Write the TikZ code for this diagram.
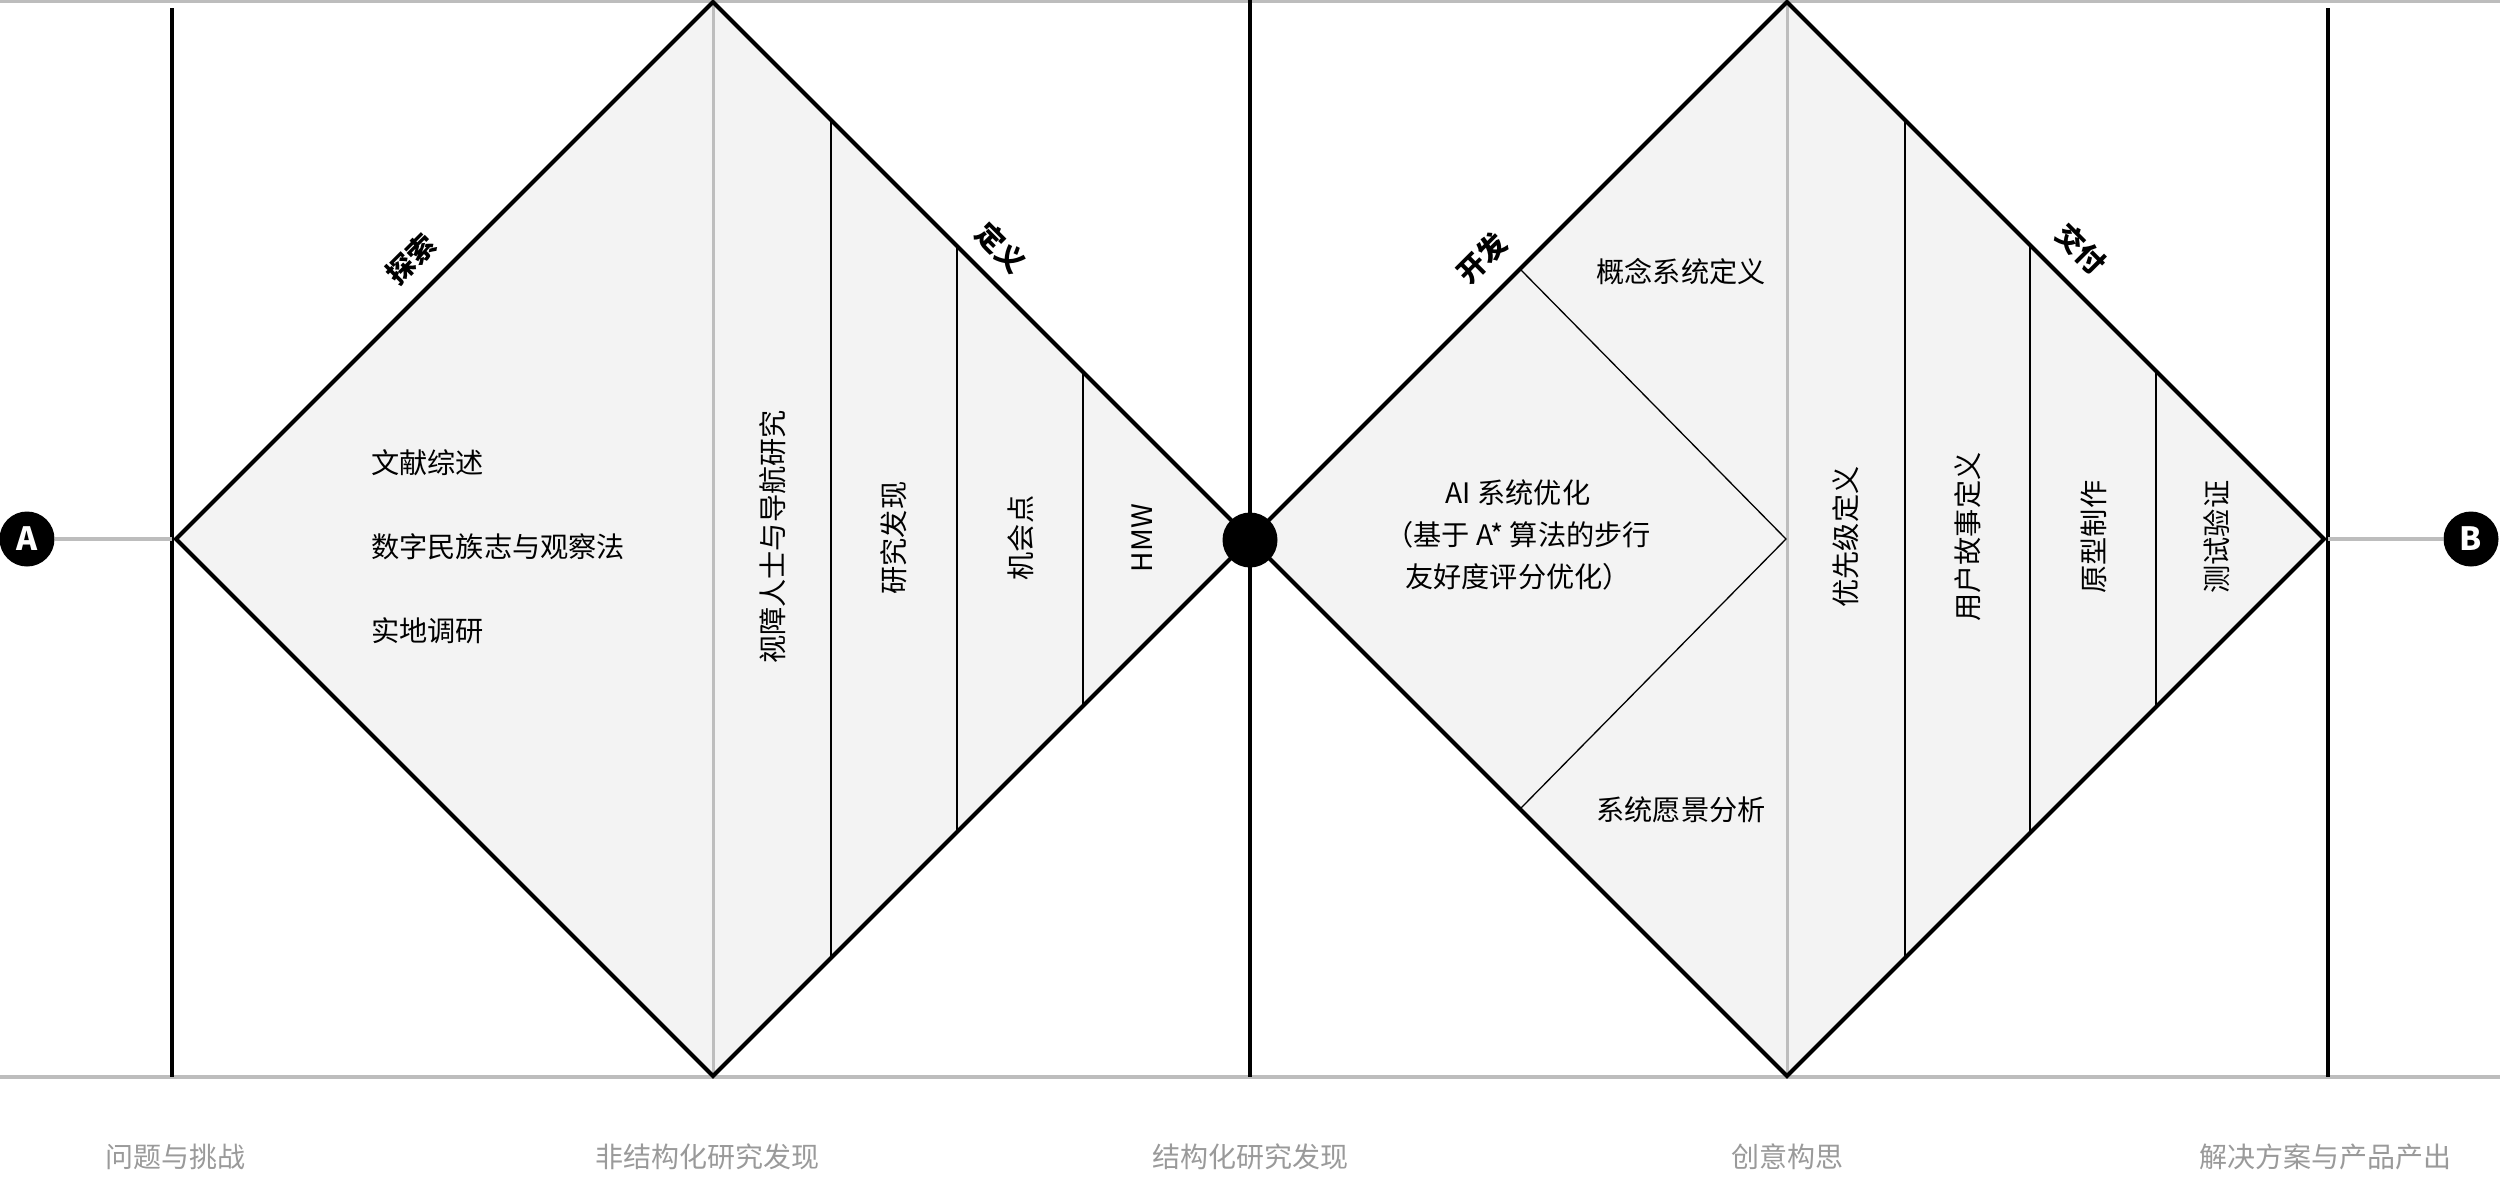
\documentclass[tikz,border=0pt]{standalone}
\usepackage{fontspec}
\setmainfont{Noto Sans CJK SC}
\definecolor{diafill}{HTML}{F3F3F3}
\definecolor{guidegray}{HTML}{BDBDBD}
\definecolor{stagegray}{HTML}{9A9A9A}
\begin{document}
\begin{tikzpicture}[x=1pt,y=-1pt,
  outline/.style={draw=black, line width=4pt, line join=miter},
  sepline/.style={draw=black, line width=1.6pt},
  guide/.style={draw=guidegray, line width=3.5pt},
  frameline/.style={draw=black, line width=3.2pt},
  body/.style={font=\fontsize{28.2}{42}\selectfont, text=black, inner sep=0pt},
  vtext/.style={body, rotate=90},
  phase/.style={font=\bfseries\fontsize{28}{33}\selectfont, inner sep=0pt},
  stage/.style={font=\fontsize{28}{33}\selectfont, text=stagegray, inner sep=0pt},
  hub/.style={circle, fill=black, minimum size=55pt, inner sep=0pt},
  endpt/.style={circle, fill=black, minimum size=55pt, inner sep=0pt, text=white, font=\bfseries\fontsize{32}{32}\selectfont}]
\useasboundingbox (0,0) rectangle (2500,1179);
\fill[white] (0,0) rectangle (2500,1179);

% diamond vertices
\coordinate (d1l) at (176,539);
\coordinate (d1t) at (713,2);
\coordinate (d1r) at (1250,539);
\coordinate (d1b) at (713,1076);
\coordinate (d2t) at (1787,2);
\coordinate (d2r) at (2324,539);
\coordinate (d2b) at (1787,1076);

% horizontal rules
\coordinate (topL) at (0,1.5);
\coordinate (topR) at (2500,1.5);
\coordinate (botL) at (0,1077);
\coordinate (botR) at (2500,1077);
\draw[guide] (topL) -- (topR);
\draw[guide] (botL) -- (botR);

% vertical frame lines
\coordinate (f1t) at (172,8);   \coordinate (f1b) at (172,1077);
\coordinate (f2t) at (1250,0);  \coordinate (f2b) at (1250,1077);
\coordinate (f3t) at (2328,8);  \coordinate (f3b) at (2328,1077);
\draw[frameline] (f1t) -- (f1b);
\draw[frameline] (f2t) -- (f2b);
\draw[frameline] (f3t) -- (f3b);

% diamond fills
\fill[diafill] (d1l) -- (d1t) -- (d1r) -- (d1b) -- cycle;
\fill[diafill] (d1r) -- (d2t) -- (d2r) -- (d2b) -- cycle;

% gray vertical diagonals
\draw[guide, line width=3pt] (d1t) -- (d1b);
\draw[guide, line width=3pt] (d2t) -- (d2b);

% separators in diamond 1
\coordinate (s1t) at (831,120);  \coordinate (s1b) at (831,958);
\coordinate (s2t) at (957,246);  \coordinate (s2b) at (957,832);
\coordinate (s3t) at (1083,372); \coordinate (s3b) at (1083,706);
\draw[sepline] (s1t) -- (s1b);
\draw[sepline] (s2t) -- (s2b);
\draw[sepline] (s3t) -- (s3b);

% separators in diamond 2
\coordinate (s4t) at (1905,120); \coordinate (s4b) at (1905,958);
\coordinate (s5t) at (2030,245); \coordinate (s5b) at (2030,833);
\coordinate (s6t) at (2156,371); \coordinate (s6b) at (2156,707);
\draw[sepline] (s4t) -- (s4b);
\draw[sepline] (s5t) -- (s5b);
\draw[sepline] (s6t) -- (s6b);

% chevron in diamond 2
\coordinate (c1) at (1520,269);
\coordinate (c2) at (1786,539);
\coordinate (c3) at (1520,809);
\draw[sepline, line width=1.3pt] (c1) -- (c2) -- (c3);

% diamond outlines
\draw[outline] (d1l) -- (d1t) -- (d1r) -- (d1b) -- cycle;
\draw[outline] (d1r) -- (d2t) -- (d2r) -- (d2b) -- cycle;

% end points
\node[endpt] (A) at (27,539) {A};
\node[endpt] (B) at (2471,539) {B};
\coordinate (Aend) at (172,539);
\coordinate (Bend) at (2328,539);
\draw[guide] (A) -- (Aend);
\draw[guide] (Bend) -- (B);
\node[hub] (mid) at (1250,540) {};

% phase labels
\node[phase, rotate=45]  (p1) at (411,259)  {探索};
\node[phase, rotate=-45] (p2) at (1001,248) {定义};
\node[phase, rotate=45]  (p3) at (1482,258) {开发};
\node[phase, rotate=-45] (p4) at (2081,249) {交付};

% diamond 1 texts
\node[body, anchor=west] (t1) at (371,463) {文献综述};
\node[body, anchor=west] (t2) at (371,547) {数字民族志与观察法};
\node[body, anchor=west] (t3) at (371,631) {实地调研};
\node[vtext] (v1) at (773,537)  {视障人士与导航研究};
\node[vtext] (v2) at (894,538)  {研究发现};
\node[vtext] (v3) at (1021,538) {机会点};
\node[vtext] (v4) at (1142,538) {HMW};

% diamond 2 texts
\node[body] (t4) at (1681,272) {概念系统定义};
\node[body] (t5) at (1681,810) {系统愿景分析};
\node[body, align=center] (t6) at (1518,535) {AI 系统优化\\（基于 A* 算法的步行\\友好度评分优化）};
\node[vtext] (v5) at (1846,537) {优先级定义};
\node[vtext] (v6) at (1968,537) {用户故事定义};
\node[vtext] (v7) at (2094,537) {原型制作};
\node[vtext] (v8) at (2217,537) {测试验证};

% stage labels
\node[stage] (g1) at (175,1157)  {问题与挑战};
\node[stage] (g2) at (707,1157)  {非结构化研究发现};
\node[stage] (g3) at (1250,1157) {结构化研究发现};
\node[stage] (g4) at (1787,1157) {创意构思};
\node[stage] (g5) at (2325,1157) {解决方案与产品产出};
\end{tikzpicture}
\end{document}
